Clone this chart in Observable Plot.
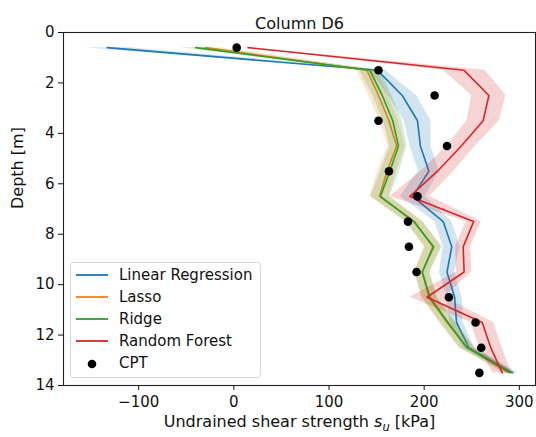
<!DOCTYPE html>
<html>
<head>
<meta charset="utf-8">
<script src="https://cdn.jsdelivr.net/npm/d3@7"></script>
<script src="https://cdn.jsdelivr.net/npm/@observablehq/plot@0.6"></script>
<style>
  html, body { margin: 0; padding: 0; background: #fff; }
  #wrap { position: relative; width: 536px; height: 437px; font-family: "DejaVu Sans", sans-serif; }
  #legend { position: absolute; left: 70px; top: 262px; }
</style>
</head>
<body>
<div id="wrap"></div>
<script>
// ---- data ----
const title = "Column D6";
const depths = [0.6, 1.5, 2.5, 3.5, 4.5, 5.5, 6.5, 7.5, 8.5, 9.5, 10.5, 11.5, 12.5, 13.5];
const models = ["Linear Regression", "Lasso", "Ridge", "Random Forest"];
const colors = ["#1f77b4", "#ff7f0e", "#2ca02c", "#d62728"];

const linearValues = [-133, 151, 177, 193, 196, 205, 188, 220, 229, 224, 232, 234, 247, 293];
const lassoValues  = [-30, 140, 152, 163, 171, 161, 153, 190, 209, 198, 205, 224, 245, 289];
const ridgeValues  = [-40, 143, 156, 167, 173, 164, 154, 189, 210, 198, 206, 225, 245, 291];
const forestValues = [15, 242, 268, 262, 239, 214, 185, 252, 241, 242, 203, 261, 270, 282];

// half-width of the shaded uncertainty bands
const linearSpread = [24, 8, 15, 14, 11, 11, 13, 9, 9, 8, 8, 7, 6, 5];
const lassoSpread  = [16, 11, 10, 10, 9, 10, 10, 9, 9, 8, 8, 8, 8, 6];
const ridgeSpread  = [16, 11, 10, 10, 9, 10, 10, 9, 9, 8, 8, 8, 8, 6];
const forestSpread = [3, 22, 18, 17, 15, 17, 21, 8, 8, 8, 18, 12, 12, 10];

const cptDepths = [0.6, 1.5, 2.5, 3.5, 4.5, 5.5, 6.5, 7.5, 8.5, 9.5, 10.5, 11.5, 12.5, 13.5];
const cptValues = [3, 152, 211, 152, 224, 163, 193, 183, 184, 192, 226, 254, 260, 258];

const xTicks = [-100, 0, 100, 200, 300];
const yTicks = [0, 2, 4, 6, 8, 10, 12, 14];

// ---- build table ----
const seriesValues = [linearValues, lassoValues, ridgeValues, forestValues];
const seriesSpread = [linearSpread, lassoSpread, ridgeSpread, forestSpread];
const rows = [];
models.forEach((m, i) => {
  depths.forEach((d, j) => {
    rows.push({model: m, depth: d, value: seriesValues[i][j],
               lo: seriesValues[i][j] - seriesSpread[i][j],
               hi: seriesValues[i][j] + seriesSpread[i][j]});
  });
});
const cpt = cptDepths.map((d, i) => ({depth: d, value: cptValues[i]}));

const fmt = v => (v < 0 ? "\u2212" + Math.abs(v) : String(v));
const FS = 15;
const LFS = 16;

const marks = [Plot.frame({stroke: "#222", strokeWidth: 1.1})];
models.forEach((m, i) => {
  const data = rows.filter(r => r.model === m);
  marks.push(Plot.areaX(data, {y: "depth", x1: "lo", x2: "hi", fill: colors[i], fillOpacity: 0.2}));
  marks.push(Plot.line(data, {x: "value", y: "depth", stroke: colors[i], strokeWidth: 1.6}));
});
marks.push(Plot.dot(cpt, {x: "value", y: "depth", r: 4.3, fill: "black", stroke: "none"}));
marks.push(Plot.text([title], {frameAnchor: "top", dy: -15, fontSize: 16, fill: "#111"}));
marks.push(Plot.text(["Depth [m]"], {frameAnchor: "left", dx: -46, rotate: -90, fontSize: LFS, fill: "#111"}));
marks.push(Plot.text(["XLABEL"], {frameAnchor: "bottom", dy: 41, fontSize: LFS, fill: "#111"}));

const chart = Plot.plot({
  width: 536,
  height: 437,
  marginLeft: 63,
  marginRight: 1,
  marginTop: 32,
  marginBottom: 52,
  style: {fontFamily: "DejaVu Sans, sans-serif", fontSize: FS + "px", color: "#111", background: "#fff"},
  x: {domain: [-179, 317], ticks: xTicks, tickFormat: fmt, tickSize: 5, tickPadding: 6, label: null},
  y: {domain: [0, 14], reverse: true, ticks: yTicks, tickSize: 5, tickPadding: 4, label: null},
  marks
});
document.getElementById("wrap").appendChild(chart);

// subscript s_u in x label
d3.select(chart).selectAll("text").filter(function () { return this.textContent === "XLABEL"; })
  .each(function () {
    const t = d3.select(this);
    t.text(null);
    t.append("tspan").text("Undrained shear strength ");
    t.append("tspan").attr("font-style", "italic").text("s");
    t.append("tspan").attr("font-style", "italic").attr("font-size", "11.5px").attr("dy", "4").text("u");
    t.append("tspan").attr("dy", "-4").text(" [kPa]");
  });

// legend
const lg = d3.select("#wrap").append("svg").attr("id", "legend")
  .attr("width", 192).attr("height", 117);
lg.append("rect").attr("x", 0.5).attr("y", 0.5).attr("width", 190).attr("height", 115)
  .attr("rx", 3).attr("fill", "rgba(255,255,255,0.85)").attr("stroke", "#d5d5d5");
const entries = models.map((m, i) => ({label: m, color: colors[i], kind: "line"}))
  .concat([{label: "CPT", color: "black", kind: "dot"}]);
entries.forEach((e, i) => {
  const y = 13 + i * 22;
  if (e.kind === "line") {
    lg.append("line").attr("x1", 6).attr("x2", 38).attr("y1", y).attr("y2", y)
      .attr("stroke", e.color).attr("stroke-width", 1.8);
  } else {
    lg.append("circle").attr("cx", 22).attr("cy", y + 1).attr("r", 4.3).attr("fill", "black");
  }
  lg.append("text").attr("x", 49).attr("y", y).attr("dy", "0.35em")
    .attr("font-family", "DejaVu Sans, sans-serif").attr("font-size", FS).attr("fill", "#111")
    .text(e.label);
});
</script>
</body>
</html>
